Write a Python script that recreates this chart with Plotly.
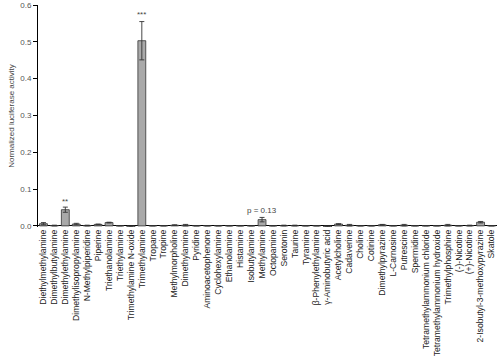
import plotly.graph_objects as go

categories = [
    "Diethylmethylamine", "Dimethylbutylamine", "Dimethylethylamine", "Dimethylisopropylamine",
    "N-Methylpiperidine", "Piperine", "Triethanolamine", "Triethylamine",
    "Trimethylamine N-oxide", "Trimethylamine", "Tropane", "Tropine",
    "Methylmorpholine", "Dimethylamine", "Pyridine", "Aminoacetophenone",
    "Cyclohexylamine", "Ethanolamine", "Histamine", "Isobutylamine",
    "Methylamine", "Octopamine", "Serotonin", "Taurine", "Tyramine",
    "β-Phenylethylamine", "γ-Aminobutyric acid", "Acetylcholine", "Cadaverine",
    "Choline", "Cotinine", "Dimethylpyrazine", "L-Carnosine", "Putrescine",
    "Spermidine", "Tetramethylammonium chloride", "Tetramethylammonium hydroxide",
    "Trimethylphosphine", "(-)-Nicotine", "(+)-Nicotine",
    "2-Isobutyl-3-methoxypyrazine", "Skatole",
]
values = [
    0.006, 0.001, 0.044, 0.005, 0.001, 0.004, 0.009, 0.0005,
    -0.004, 0.503, 0.0005, 0.0005, 0.002, 0.002, 0.0005, 0.0005,
    0.0005, 0.0005, 0.0005, 0.0005, 0.017, 0.0005, 0.001, 0.001, 0.0005,
    0.0005, -0.003, 0.005, 0.002, 0.0005, 0.0005, 0.003, 0.0005, 0.002,
    0.0005, 0.0005, 0.0005, 0.002, 0.0005, 0.001, 0.010, 0.0005,
]
errors = [
    0.003, 0.001, 0.007, 0.002, 0.001, 0.001, 0.001, 0.0005,
    0.003, 0.052, 0.0005, 0.0005, 0.001, 0.002, 0.0005, 0.0005,
    0.0005, 0.0005, 0.0005, 0.0005, 0.006, 0.0005, 0.001, 0.001, 0.0005,
    0.0005, 0.002, 0.001, 0.002, 0.0005, 0.0005, 0.001, 0.0005, 0.002,
    0.0005, 0.0005, 0.0005, 0.002, 0.0005, 0.001, 0.002, 0.0005,
]
sig_labels = {"Dimethylethylamine": ("**", 0.066), "Trimethylamine": ("***", 0.574),
              "Methylamine": ("p = 0.13", 0.043)}
y_ticks = [0.0, 0.1, 0.2, 0.3, 0.4, 0.5, 0.6]

font = "Liberation Sans, Arial, sans-serif"

fig = go.Figure(go.Bar(
    x=categories, y=values,
    marker=dict(color="#a9a9a9", line=dict(color="#333333", width=0.8)),
    width=0.72,
    error_y=dict(type="data", array=errors, color="#333333", thickness=0.9, width=2.5),
))

for cat, (txt, yv) in sig_labels.items():
    fig.add_annotation(x=cat, y=yv, text=txt, showarrow=False,
                       font=dict(size=8, color="#444444", family=font))

fig.update_layout(
    width=500, height=362,
    margin=dict(l=38, r=3, t=5, b=135),
    plot_bgcolor="white", paper_bgcolor="white",
    showlegend=False,
    font=dict(family=font, size=8, color="#222222"),
)
fig.update_xaxes(
    tickmode="array", tickvals=categories, ticktext=categories,
    tickangle=-90, tickfont=dict(size=8.6, color="#222222"),
    showline=False, showgrid=False, ticks="",
    zeroline=False, automargin=False,
)
fig.update_yaxes(
    range=[-0.003, 0.6], tickvals=y_ticks, tickformat=".1f",
    showline=True, linecolor="black", linewidth=1,
    ticks="outside", ticklen=4, tickcolor="black",
    showgrid=False, zeroline=True, zerolinecolor="black", zerolinewidth=1.2,
    tickfont=dict(size=8, color="#555555"), automargin=False,
    title=dict(text="Normalized luciferase activity", font=dict(size=8, color="#444444"), standoff=4),
)

fig.write_html("out.html", config={"displayModeBar": False},
               post_script="document.body.style.margin='0';")
